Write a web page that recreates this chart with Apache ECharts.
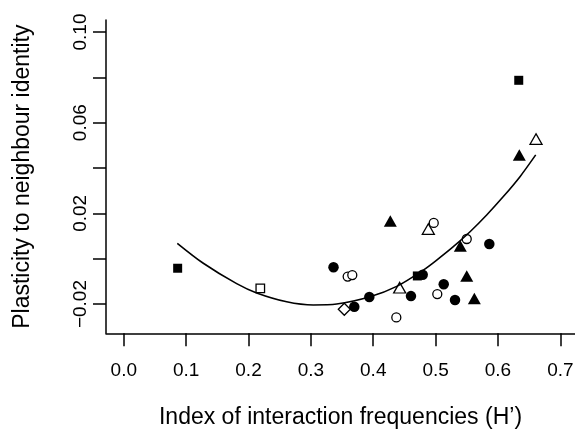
<!DOCTYPE html>
<html>
<head>
<meta charset="utf-8">
<script src="https://cdn.jsdelivr.net/npm/echarts@6/dist/echarts.min.js"></script>
<style>
html,body{margin:0;padding:0;background:#fff;}
#chart{width:575px;height:430px;}
</style>
</head>
<body>
<div id="chart"></div>
<script>
// Tick values
const xTicks = [0.0, 0.1, 0.2, 0.3, 0.4, 0.5, 0.6, 0.7];
const yTicks = [-0.02, 0.00, 0.02, 0.04, 0.06, 0.08, 0.10];
const yTickLabels = [-0.02, 0.02, 0.06, 0.10];

// Data points [H', plasticity]
const filledCircles = [[0.3363,-0.0038],[0.3696,-0.0212],[0.3937,-0.0169],[0.4605,-0.0165],[0.4793,-0.0071],[0.5130,-0.0113],[0.5311,-0.0182],[0.5861,0.0065]];
const openCircles = [[0.3590,-0.0079],[0.3664,-0.0072],[0.4370,-0.0259],[0.4970,0.0158],[0.5027,-0.0156],[0.5499,0.0087]];
const filledTriangles = [[0.4274,0.0166],[0.5396,0.0056],[0.5499,-0.0076],[0.5621,-0.0175],[0.6342,0.0458]];
const openTriangles = [[0.4424,-0.0128],[0.4883,0.0131],[0.6610,0.0528]];
const filledSquares = [[0.0864,-0.0042],[0.4707,-0.0076],[0.6333,0.0787]];
const openSquares = [[0.2189,-0.0131]];
const openDiamonds = [[0.3536,-0.0223]];

// Fitted curve
const fitCurve = [[0.0858,0.0068],[0.1275,-0.0020],[0.1810,-0.0110],[0.2131,-0.0151],[0.2612,-0.0190],[0.3039,-0.0204],[0.3414,-0.0200],[0.3948,-0.0168],[0.4376,-0.0122],[0.4803,-0.0050],[0.5018,-0.0006],[0.5284,0.0053],[0.5552,0.0119],[0.5819,0.0193],[0.6086,0.0274],[0.6353,0.0362],[0.6605,0.0458]];

const FONT = 'Liberation Sans, Arial, Helvetica, sans-serif';
const chart = echarts.init(document.getElementById('chart'), null, {renderer: 'canvas'});

function fmtY(v){ const s = Math.abs(v).toFixed(2); return (v < -1e-9 ? '\u2212' : '') + s; }

const openStyle = {color: '#ffffff', borderColor: '#000', borderWidth: 1.3, opacity: 1};
const filledStyle = {color: '#000', opacity: 1};

chart.setOption({
  animation: false,
  backgroundColor: '#ffffff',
  grid: {left: 106, right: 0, top: 20, bottom: 430 - 333.3, containLabel: false, outerBoundsMode: 'none'},
  xAxis: {
    type: 'value', min: -0.0285, max: 0.7235,
    name: "Index of interaction frequencies (H\u2019)",
    nameLocation: 'middle', nameGap: 73,
    nameTextStyle: {fontFamily: FONT, fontSize: 23, color: '#000'},
    axisLine: {show: true, onZero: false, lineStyle: {color: '#000', width: 1.5}},
    axisTick: {show: true, length: 13, inside: false, lineStyle: {color: '#000', width: 1.5}, customValues: xTicks},
    axisLabel: {show: true, customValues: xTicks, margin: 28, fontFamily: FONT, fontSize: 19, color: '#000',
      formatter: v => v.toFixed(1)},
    splitLine: {show: false}
  },
  yAxis: {
    type: 'value', min: -0.0329, max: 0.1053,
    name: 'Plasticity to neighbour identity',
    nameLocation: 'middle', nameGap: 72, nameRotate: 90,
    nameTextStyle: {fontFamily: FONT, fontSize: 23, color: '#000'},
    axisLine: {show: true, onZero: false, lineStyle: {color: '#000', width: 1.5}},
    axisTick: {show: true, length: 13, inside: false, lineStyle: {color: '#000', width: 1.5}, customValues: yTicks},
    axisLabel: {show: true, customValues: yTickLabels, rotate: 90, margin: 16, fontFamily: FONT, fontSize: 19, color: '#000',
      formatter: v => fmtY(v)},
    splitLine: {show: false}
  },
  series: [
    {type: 'scatter', data: filledTriangles, symbol: 'triangle', symbolSize: [13, 11.5], itemStyle: filledStyle, z: 2},
    {type: 'scatter', data: filledSquares, symbol: 'rect', symbolSize: 9, itemStyle: filledStyle, z: 2},
    {type: 'scatter', data: openTriangles, symbol: 'triangle', symbolSize: [12, 10.5], itemStyle: openStyle, z: 3},
    {type: 'scatter', data: openSquares, symbol: 'rect', symbolSize: 8.5, itemStyle: openStyle, z: 3},
    {type: 'scatter', data: openDiamonds, symbol: 'diamond', symbolSize: 12, itemStyle: openStyle, z: 3},
    {type: 'scatter', data: openCircles, symbol: 'circle', symbolSize: 9, itemStyle: openStyle, z: 4},
    {type: 'scatter', data: filledCircles, symbol: 'circle', symbolSize: 10.5, itemStyle: filledStyle, z: 5},
    {type: 'line', data: fitCurve, smooth: 0.3, showSymbol: false, symbol: 'none',
      lineStyle: {color: '#000', width: 1.6}, z: 6}
  ]
});
</script>
</body>
</html>
